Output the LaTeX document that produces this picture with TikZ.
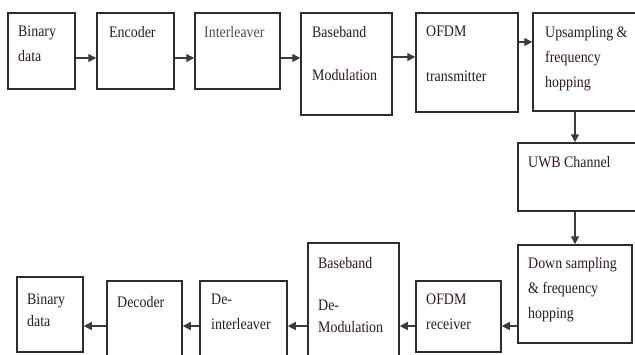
\documentclass[tikz,border=0pt]{standalone}
\usepackage{fontspec}
\setmainfont{Liberation Serif}[FakeStretch=0.87]
\usetikzlibrary{arrows.meta,calc}
\definecolor{boxc}{RGB}{45,45,45}
\definecolor{linec}{RGB}{60,60,60}
\definecolor{txtc}{RGB}{45,25,30}
\definecolor{txtl}{RGB}{70,85,75}
\begin{document}
\begin{tikzpicture}[x=1pt,y=-1pt,
  box/.style={draw=boxc, line width=1.5pt, inner sep=0pt},
  lbl/.style={anchor=north west, inner sep=0pt, align=left, text=txtc, font=\fontsize{16}{25}\selectfont},
  conn/.style={draw=linec, line width=1.5pt, -{Triangle[length=8pt,width=8pt]}}]
\useasboundingbox (0,0) rectangle (635,354);
\clip (0,0) rectangle (635,354);
% boxes
\node[box, minimum width=67pt,  minimum height=76pt]  (bin1)  at (41.5,51) {};
\node[box, minimum width=77pt,  minimum height=76pt]  (enc)   at (135.5,51) {};
\node[box, minimum width=85pt,  minimum height=76pt]  (intl)  at (237.5,51) {};
\node[box, minimum width=91pt,  minimum height=102pt] (bbm)   at (346.5,64) {};
\node[box, minimum width=102pt, minimum height=99pt]  (ofdmt) at (467,62.5) {};
\node[box, minimum width=112pt, minimum height=98pt]  (ups)   at (589,62) {};
\node[box, minimum width=127pt, minimum height=68pt]  (uwb)   at (581.5,177) {};
\node[box, minimum width=114pt, minimum height=98pt]  (down)  at (575,294) {};
\node[box, minimum width=85pt,  minimum height=71pt]  (ofdmr) at (458.5,316.5) {};
\node[box, minimum width=91pt,  minimum height=137pt] (bbd)   at (353.5,311.5) {};
\node[box, minimum width=87pt,  minimum height=99pt]  (deint) at (243.5,330.5) {};
\node[box, minimum width=75pt,  minimum height=99pt]  (dec)   at (144.5,330.5) {};
\node[box, minimum width=66pt,  minimum height=75pt]  (bin2)  at (50,314.5) {};
% labels
\node[lbl] (t1)  at (18,26)   {Binary\\data};
\node[lbl] (t2)  at (109,26)  {Encoder};
\node[lbl, text=txtl] (t3)  at (204,26)  {Interleaver};
\node[lbl] (t4)  at (312,26)  {Baseband\\[18pt]Modulation};
\node[lbl] (t5)  at (426,26)  {OFDM\\[20pt]transmitter};
\node[lbl] (t6)  at (545,26)  {Upsampling \&\\frequency\\hopping};
\node[lbl] (t7)  at (528,156) {UWB Channel};
\node[lbl] (t8)  at (528,257) {Down sampling\\\& frequency\\hopping};
\node[lbl] (t9)  at (426,294) {OFDM\\receiver};
\node[lbl] (t10) at (318,257) {Baseband\\[17pt]De-\\[-3pt]Modulation};
\node[lbl] (t11) at (211,294) {De-\\interleaver};
\node[lbl] (t12) at (117,296) {Decoder};
\node[lbl] (t13) at (27,294)  {Binary\\[-3pt]data};
% helper coordinates
\coordinate (ya) at (0,58);
\coordinate (yb) at (0,57);
\coordinate (yc) at (0,42);
\coordinate (yd) at (0,326);
\coordinate (xv) at (575,0);
% connectors
\draw[conn] (bin1.east |- ya) -- (enc.west |- ya);
\draw[conn] (enc.east |- ya) -- (intl.west |- ya);
\draw[conn] (intl.east |- ya) -- (bbm.west |- ya);
\draw[conn] (bbm.east |- yb) -- (ofdmt.west |- yb);
\draw[conn] (ofdmt.east |- yc) -- (ups.west |- yc);
\draw[conn] (ups.south -| xv) -- (uwb.north -| xv);
\draw[conn] (uwb.south -| xv) -- (down.north -| xv);
\draw[conn] (down.west |- yd) -- (ofdmr.east |- yd);
\draw[conn] (ofdmr.west |- yd) -- (bbd.east |- yd);
\draw[conn] (bbd.west |- yd) -- (deint.east |- yd);
\draw[conn] (deint.west |- yd) -- (dec.east |- yd);
\draw[conn] (dec.west |- yd) -- (bin2.east |- yd);
\end{tikzpicture}
\end{document}
